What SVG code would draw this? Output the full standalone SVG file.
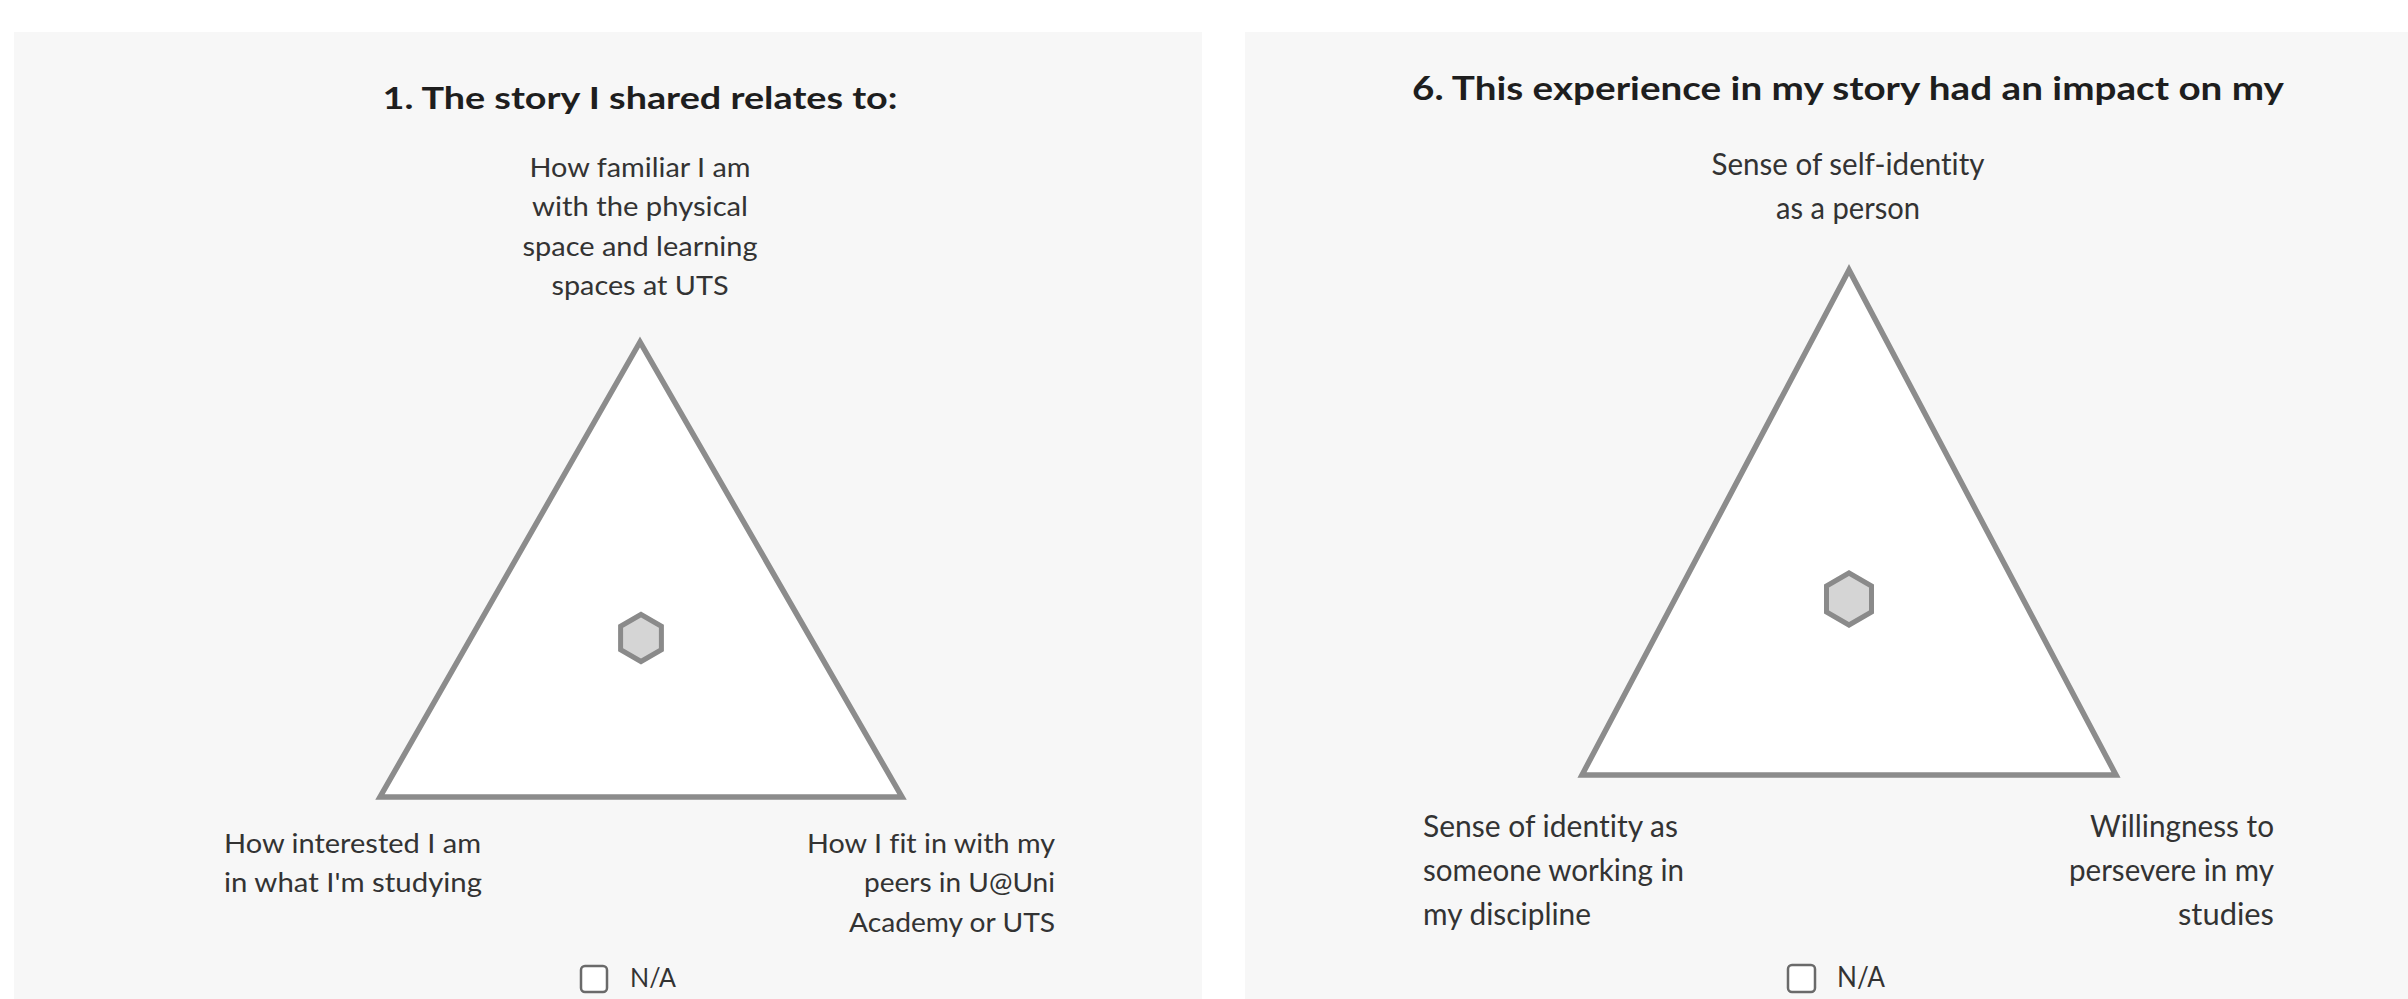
<svg xmlns="http://www.w3.org/2000/svg" width="2408" height="999" viewBox="0 0 2408 999">
  <style>
    .panel { fill: #f7f7f7; }
    .title { font-family: Lato, "Noto Sans", sans-serif; font-weight: 700; fill: #1e1e1e; }
    .lbl { font-family: Lato, "Open Sans", sans-serif; fill: #333333; font-variant-ligatures: none; }
    .tri { fill: #ffffff; stroke: #8c8c8c; stroke-width: 5.5; stroke-linejoin: miter; }
    .hex { fill: #d5d5d5; stroke: #8a8a8a; stroke-width: 5; stroke-linejoin: miter; }
    .box { fill: #ffffff; stroke: #6a6a6a; stroke-width: 2.5; }
  </style>

  <rect width="2408" height="999" fill="#ffffff"/>

  <!-- Question 1 card -->
  <g id="card-q1">
    <rect class="panel" x="14" y="32" width="1188" height="967"/>
    <text class="title" x="640" y="109" font-size="30" text-anchor="middle" textLength="515" lengthAdjust="spacingAndGlyphs">1. The story I shared relates to:</text>
    <g id="q1-top-label" class="lbl" font-size="27.5" text-anchor="middle">
      <text x="640" y="177" textLength="221" lengthAdjust="spacingAndGlyphs">How familiar I am</text>
      <text x="640" y="216" textLength="216" lengthAdjust="spacingAndGlyphs">with the physical</text>
      <text x="640" y="256" textLength="235" lengthAdjust="spacingAndGlyphs">space and learning</text>
      <text x="640" y="295" textLength="177" lengthAdjust="spacingAndGlyphs">spaces at UTS</text>
    </g>
    <polygon id="q1-triangle" class="tri" points="640,342 380,797 902,797"/>
    <polygon id="q1-marker" class="hex" points="641,614.5 661.4,626.3 661.4,649.7 641,661.5 620.6,649.7 620.6,626.3"/>
    <g id="q1-left-label" class="lbl" font-size="27.5">
      <text x="224" y="853" textLength="257" lengthAdjust="spacingAndGlyphs">How interested I am</text>
      <text x="224" y="892" textLength="258" lengthAdjust="spacingAndGlyphs">in what I'm studying</text>
    </g>
    <g id="q1-right-label" class="lbl" font-size="27.5" text-anchor="end">
      <text x="1055" y="853" textLength="248" lengthAdjust="spacingAndGlyphs">How I fit in with my</text>
      <text x="1055" y="892" textLength="191" lengthAdjust="spacingAndGlyphs">peers in U@Uni</text>
      <text x="1055" y="932" textLength="206" lengthAdjust="spacingAndGlyphs">Academy or UTS</text>
    </g>
    <g id="q1-na">
      <rect class="box" x="581" y="966" width="26" height="26" rx="4"/>
      <text class="lbl" x="630" y="987" font-size="27.5" textLength="46" lengthAdjust="spacingAndGlyphs">N/A</text>
    </g>
  </g>

  <!-- Question 6 card -->
  <g id="card-q6">
    <rect class="panel" x="1245" y="32" width="1163" height="967"/>
    <text class="title" x="1848" y="100" font-size="32" text-anchor="middle" textLength="872" lengthAdjust="spacingAndGlyphs">6. This experience in my story had an impact on my</text>
    <g id="q6-top-label" class="lbl" font-size="30" text-anchor="middle">
      <text x="1848" y="175" textLength="273" lengthAdjust="spacingAndGlyphs">Sense of self-identity</text>
      <text x="1848" y="219" textLength="144" lengthAdjust="spacingAndGlyphs">as a person</text>
    </g>
    <polygon id="q6-triangle" class="tri" points="1849,270 1582,775 2116,775"/>
    <polygon id="q6-marker" class="hex" points="1849,573 1871.5,586 1871.5,612 1849,625 1826.5,612 1826.5,586"/>
    <g id="q6-left-label" class="lbl" font-size="30">
      <text x="1423" y="837" textLength="255" lengthAdjust="spacingAndGlyphs">Sense of identity as</text>
      <text x="1423" y="881" textLength="261" lengthAdjust="spacingAndGlyphs">someone working in</text>
      <text x="1423" y="925" textLength="168" lengthAdjust="spacingAndGlyphs">my discipline</text>
    </g>
    <g id="q6-right-label" class="lbl" font-size="30" text-anchor="end">
      <text x="2274" y="837" textLength="184" lengthAdjust="spacingAndGlyphs">Willingness to</text>
      <text x="2274" y="881" textLength="205" lengthAdjust="spacingAndGlyphs">persevere in my</text>
      <text x="2274" y="925" textLength="96" lengthAdjust="spacingAndGlyphs">studies</text>
    </g>
    <g id="q6-na">
      <rect class="box" x="1788" y="965" width="27" height="27" rx="4"/>
      <text class="lbl" x="1837" y="987" font-size="29" textLength="48" lengthAdjust="spacingAndGlyphs">N/A</text>
    </g>
  </g>
</svg>
